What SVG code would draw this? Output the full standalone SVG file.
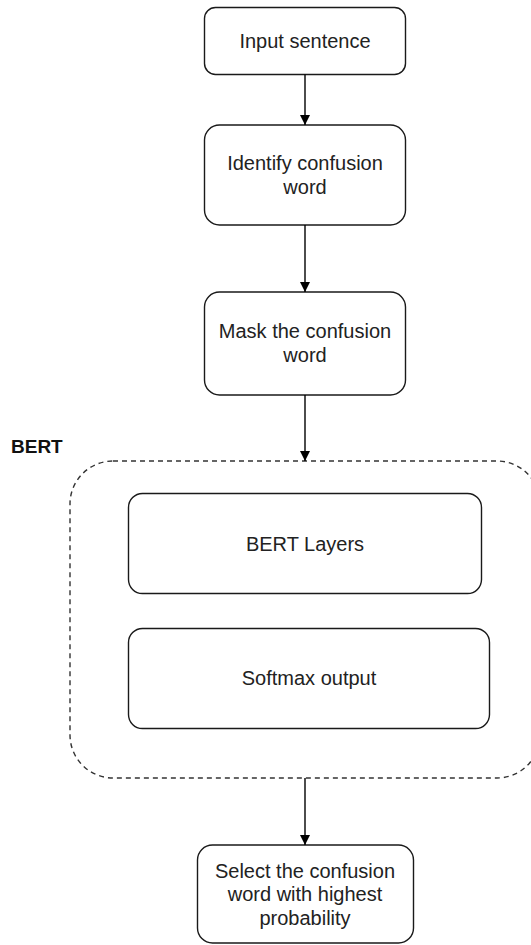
<svg xmlns="http://www.w3.org/2000/svg" width="531" height="945" viewBox="0 0 531 945">
  <defs>
    <style>
      .box { fill: #ffffff; stroke: #1a1a1a; stroke-width: 1.4; }
      .group { fill: none; stroke: #333333; stroke-width: 1.4; stroke-dasharray: 5 4; }
      .label { font-family: "Liberation Sans", Arial, Helvetica, sans-serif; font-size: 20px; fill: #222222; text-anchor: middle; }
      .title { font-family: "Liberation Sans", Arial, Helvetica, sans-serif; font-size: 19px; font-weight: bold; fill: #111111; }
      .edge { fill: none; stroke: #000000; stroke-width: 1.4; }
    </style>
    <marker id="arrow" viewBox="0 0 10 10" refX="10" refY="5" markerWidth="10" markerHeight="10" markerUnits="userSpaceOnUse" orient="auto">
      <path d="M0,0 L10,5 L0,10 z" fill="#000000"/>
    </marker>
  </defs>

  <rect width="531" height="945" fill="#ffffff"/>

  <!-- BERT container -->
  <g id="bert-group">
    <rect class="group" x="70" y="461" width="470" height="317" rx="43" ry="43"/>
    <text class="title" x="11" y="453">BERT</text>
  </g>

  <g id="input-sentence">
    <rect class="box" x="204.5" y="7.5" width="201" height="67" rx="11" ry="11"/>
    <text class="label" x="305" y="48">Input sentence</text>
  </g>

  <g id="identify-word">
    <rect class="box" x="204.5" y="125" width="201" height="100" rx="15" ry="15"/>
    <text class="label" x="305" y="170">Identify confusion</text>
    <text class="label" x="305" y="194">word</text>
  </g>

  <g id="mask-word">
    <rect class="box" x="204.5" y="292" width="201" height="103" rx="15" ry="15"/>
    <text class="label" x="305" y="338">Mask the confusion</text>
    <text class="label" x="305" y="362">word</text>
  </g>

  <g id="bert-layers">
    <rect class="box" x="128.5" y="493.5" width="353" height="100" rx="14" ry="14"/>
    <text class="label" x="305" y="551">BERT Layers</text>
  </g>

  <g id="softmax-output">
    <rect class="box" x="128.5" y="628.5" width="361" height="100" rx="14" ry="14"/>
    <text class="label" x="309" y="685">Softmax output</text>
  </g>

  <g id="select-word">
    <rect class="box" x="197.5" y="845" width="216" height="98" rx="15" ry="15"/>
    <text class="label" x="305" y="878">Select the confusion</text>
    <text class="label" x="305" y="901">word with highest</text>
    <text class="label" x="305" y="925">probability</text>
  </g>

  <!-- Connectors -->
  <g id="connectors">
    <line class="edge" x1="305" y1="74.5" x2="305" y2="125" marker-end="url(#arrow)"/>
    <line class="edge" x1="305" y1="225" x2="305" y2="292" marker-end="url(#arrow)"/>
    <line class="edge" x1="305" y1="395" x2="305" y2="461" marker-end="url(#arrow)"/>
    <line class="edge" x1="305" y1="778" x2="305" y2="845" marker-end="url(#arrow)"/>
  </g>
</svg>
